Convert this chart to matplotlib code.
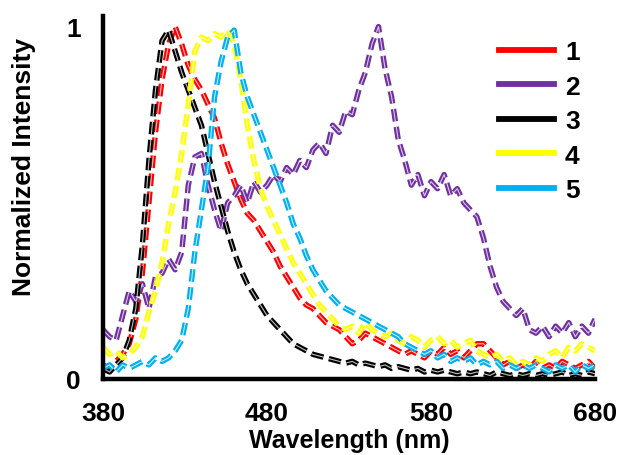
import matplotlib
matplotlib.use("Agg")
import matplotlib.pyplot as plt
from matplotlib.lines import Line2D

plt.rcParams['font.family'] = ['Liberation Sans', 'DejaVu Sans']
plt.rcParams['lines.scale_dashes'] = False

wavelength = [380, 384, 388, 392, 396, 400, 404, 408, 412, 416, 420, 424, 428, 432, 436,
              440, 444, 448, 452, 456, 460, 464, 468, 472, 476, 480, 484, 488, 492, 496,
              500, 504, 508, 512, 516, 520, 524, 528, 532, 536, 540, 544, 548, 552, 556,
              560, 564, 568, 572, 576, 580, 584, 588, 592, 596, 600, 604, 608, 612, 616,
              620, 624, 628, 632, 636, 640, 644, 648, 652, 656, 660, 664, 668, 672, 676, 680]

s1 = [0.04, 0.03, 0.05, 0.07, 0.10, 0.17, 0.30, 0.50, 0.70, 0.85, 0.95, 1.00, 0.95, 0.89, 0.85,
      0.82, 0.78, 0.74, 0.67, 0.61, 0.56, 0.51, 0.47, 0.45, 0.42, 0.39, 0.36, 0.32, 0.29, 0.26,
      0.23, 0.21, 0.20, 0.18, 0.16, 0.15, 0.14, 0.12, 0.10, 0.11, 0.13, 0.12, 0.11, 0.10, 0.09,
      0.08, 0.07, 0.08, 0.07, 0.06, 0.08, 0.07, 0.09, 0.07, 0.08, 0.06, 0.08, 0.10, 0.10, 0.08,
      0.06, 0.04, 0.05, 0.03, 0.04, 0.03, 0.05, 0.03, 0.04, 0.03, 0.05, 0.04, 0.03, 0.04, 0.05, 0.03]

s2 = [0.14, 0.12, 0.11, 0.18, 0.25, 0.22, 0.27, 0.20, 0.29, 0.30, 0.34, 0.31, 0.36, 0.55, 0.63,
      0.64, 0.55, 0.48, 0.42, 0.50, 0.52, 0.55, 0.50, 0.56, 0.53, 0.55, 0.58, 0.56, 0.60, 0.58,
      0.62, 0.60, 0.65, 0.67, 0.64, 0.72, 0.70, 0.76, 0.75, 0.82, 0.87, 0.95, 1.00, 0.88, 0.80,
      0.68, 0.62, 0.55, 0.58, 0.52, 0.56, 0.54, 0.58, 0.52, 0.54, 0.50, 0.48, 0.46, 0.40, 0.32,
      0.26, 0.22, 0.20, 0.18, 0.20, 0.14, 0.13, 0.15, 0.12, 0.15, 0.13, 0.16, 0.12, 0.15, 0.13, 0.17]

s3 = [0.03, 0.02, 0.04, 0.06, 0.11, 0.20, 0.38, 0.62, 0.82, 0.96, 0.99, 0.93, 0.87, 0.82, 0.77,
      0.72, 0.64, 0.56, 0.49, 0.42, 0.36, 0.31, 0.27, 0.24, 0.21, 0.18, 0.16, 0.14, 0.12, 0.10,
      0.09, 0.08, 0.07, 0.065, 0.06, 0.055, 0.05, 0.045, 0.05, 0.04, 0.045, 0.04, 0.035, 0.04, 0.03,
      0.035, 0.03, 0.025, 0.03, 0.02, 0.025, 0.02, 0.025, 0.02, 0.015, 0.02, 0.015, 0.02, 0.015, 0.01,
      0.02, 0.015, 0.01, 0.015, 0.01, 0.015, 0.01, 0.015, 0.01, 0.015, 0.02, 0.01, 0.015, 0.01, 0.02, 0.015]

s4 = [0.09, 0.07, 0.08, 0.06, 0.07, 0.09, 0.12, 0.19, 0.25, 0.33, 0.44, 0.53, 0.64, 0.78, 0.93,
      0.97, 0.96, 0.98, 0.97, 0.99, 0.95, 0.85, 0.72, 0.62, 0.54, 0.49, 0.45, 0.41, 0.37, 0.33,
      0.30, 0.27, 0.24, 0.21, 0.19, 0.17, 0.15, 0.14, 0.15, 0.13, 0.16, 0.14, 0.13, 0.12, 0.13,
      0.11, 0.10, 0.12, 0.11, 0.09, 0.11, 0.12, 0.10, 0.11, 0.09, 0.10, 0.11, 0.08, 0.07, 0.06,
      0.07, 0.05, 0.06, 0.04, 0.05, 0.04, 0.06, 0.05, 0.07, 0.08, 0.06, 0.09, 0.08, 0.10, 0.09, 0.08]

s5 = [0.03, 0.04, 0.02, 0.04, 0.03, 0.04, 0.05, 0.04, 0.06, 0.05, 0.06, 0.08, 0.11, 0.20, 0.36,
      0.48, 0.60, 0.80, 0.90, 0.97, 0.99, 0.87, 0.80, 0.75, 0.70, 0.65, 0.60, 0.55, 0.50, 0.44,
      0.40, 0.35, 0.31, 0.28, 0.25, 0.23, 0.21, 0.20, 0.19, 0.18, 0.17, 0.16, 0.15, 0.14, 0.13,
      0.12, 0.10, 0.09, 0.08, 0.07, 0.08, 0.06, 0.07, 0.05, 0.06, 0.05, 0.06, 0.04, 0.05, 0.04,
      0.05, 0.03, 0.04, 0.03, 0.04, 0.03, 0.04, 0.03, 0.02, 0.04, 0.03, 0.04, 0.02, 0.04, 0.03, 0.04]

series = [s1, s2, s3, s4, s5]
labels = ['1', '2', '3', '4', '5']
colors = ['#FF0000', '#7030A0', '#000000', '#FFFF00', '#00B0F0']
xticks = [380, 480, 580, 680]
yticks = [0, 1]
yticklabels = ['0', '1']

fig = plt.figure(figsize=(6.19, 4.56), dpi=100)
ax = fig.add_axes([103/619, 76/456, 492/619, 363/456])

for vals, col in zip(series, colors):
    ax.plot(wavelength, vals, color=col, lw=3.9, dashes=(9, 4), dash_capstyle='butt')
    ax.plot(wavelength, vals, color='white', lw=0.8, alpha=0.75, dashes=(9, 4))

ax.set_xlim(380, 680)
ax.set_ylim(0, 1.03)
ax.set_xticks(xticks)
ax.set_yticks(yticks)
ax.set_yticklabels(yticklabels)
ax.tick_params(axis='both', length=0, labelsize=19)
ax.tick_params(axis='x', pad=16)
ax.tick_params(axis='y', pad=16)
for lab in ax.get_xticklabels() + ax.get_yticklabels():
    lab.set_fontweight('bold')
for side in ['top', 'right']:
    ax.spines[side].set_visible(False)
for side in ['left', 'bottom']:
    ax.spines[side].set_linewidth(3.2)

fig.text(349/619, 8/456, 'Wavelength (nm)', ha='center', va='baseline',
         fontsize=18, fontweight='bold')
fig.text(24/619, 1 - 167/456, 'Normalized Intensity', ha='center', va='center',
         rotation=90, fontsize=19, fontweight='bold')

handles = [Line2D([], [], color=c, lw=4.2) for c in colors]
ax.legend(handles, labels, loc='upper left', bbox_to_anchor=(499/619, 1 - 41/456),
          bbox_transform=fig.transFigure, frameon=False, borderpad=0, borderaxespad=0,
          handlelength=2.1, handletextpad=0.4, labelspacing=0.4,
          prop={'size': 19, 'weight': 'bold'})

fig.savefig('out.png', dpi=100)
